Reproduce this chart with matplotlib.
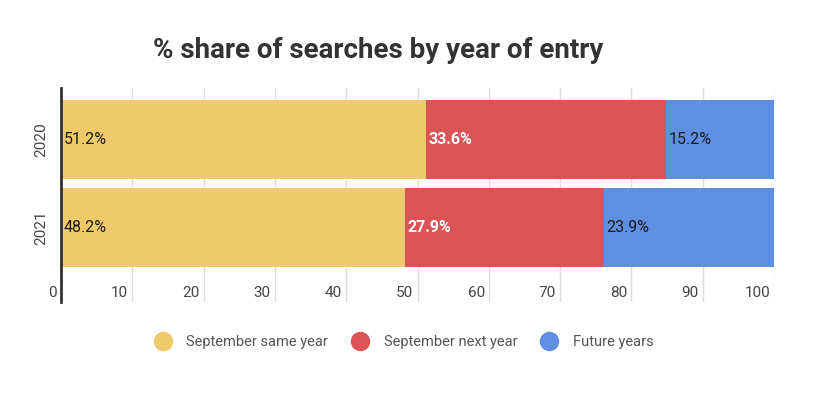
import matplotlib.pyplot as plt
from matplotlib.lines import Line2D
from matplotlib import transforms

plt.rcParams['font.family'] = ['Roboto', 'DejaVu Sans']

years = ["2020", "2021"]
series_names = ["September same year", "September next year", "Future years"]
same_year = [51.2, 48.2]
next_year = [33.6, 27.9]
future = [15.2, 23.9]
colors = ["#EECA6B", "#DC5355", "#5E8FE3"]
label_colors = ["#1a1a1a", "white", "#1a1a1a"]
label_weights = ["normal", "bold", "normal"]
xticks = [0, 10, 20, 30, 40, 50, 60, 70, 80, 90, 100]

W, H = 813, 400
fig = plt.figure(figsize=(W / 100, H / 100), dpi=100)
ax = fig.add_axes([61 / W, 1 - 302 / H, (774 - 61) / W, (302 - 88) / H])

ypos = [0, 1]
bar_h = 0.89
left = [0, 0]
for vals, col, tc, tw in zip([same_year, next_year, future], colors, label_colors, label_weights):
    ax.barh(ypos, vals, left=left, height=bar_h, color=col, zorder=2)
    for y, v, l in zip(ypos, vals, left):
        ax.text(l + 0.4, y, f"{v}%", ha="left", va="center", color=tc,
                fontsize=11.5, fontweight=tw, zorder=3)
    left = [a + b for a, b in zip(left, vals)]

ax.set_xlim(0, 100)
ax.set_ylim(1.84, -0.58)
ax.set_xticks([])
ax.set_yticks([])
for x in xticks[1:]:
    ax.axvline(x, color="#dddddd", lw=1, zorder=1)

# tick labels sit just left of each gridline, near the bottom
off = transforms.offset_copy(ax.transData, fig=fig, x=-4, y=0, units="dots")
for x in xticks:
    ax.text(x, 1.74, str(x), ha="right", va="center", fontsize=11,
            color="#444444", transform=off)

for y, lab in zip(ypos, years):
    ax.text(-2.7, y, lab, rotation=90, ha="center", va="center",
            fontsize=11, color="#444444")

for s in ["top", "right", "bottom"]:
    ax.spines[s].set_visible(False)
ax.spines["left"].set_color("#333333")
ax.spines["left"].set_linewidth(2)

fig.text(378 / W, 1 - 50 / H, "% share of searches by year of entry",
         ha="center", va="center", fontsize=20, fontweight="bold", color="#333333")

handles = [Line2D([], [], marker="o", ls="", markersize=13, color=c) for c in colors]
fig.legend(handles, series_names, loc="center", ncol=3, frameon=False,
           bbox_to_anchor=(401 / W, 1 - 342 / H), fontsize=10.5,
           labelcolor="#555555", handletextpad=0.6, columnspacing=1.2)

fig.savefig("out.png", dpi=100)
